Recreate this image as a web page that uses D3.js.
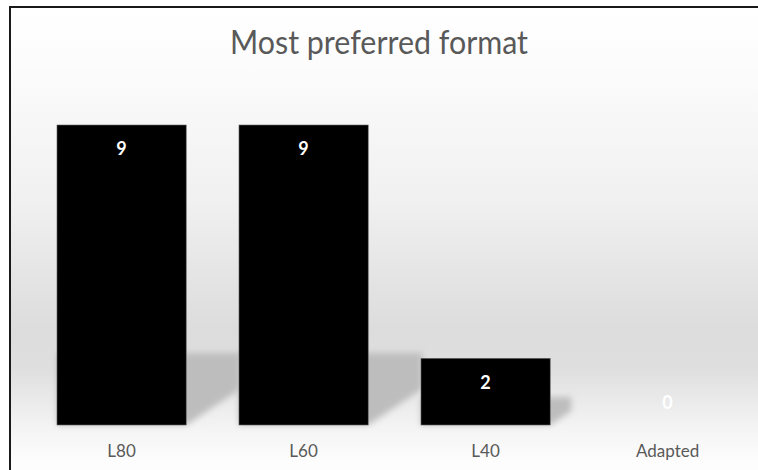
<!DOCTYPE html>
<html>
<head>
<meta charset="utf-8">
<script src="https://cdn.jsdelivr.net/npm/d3@7"></script>
<style>
  html, body { margin: 0; padding: 0; background: #fff; }
  svg { display: block; font-family: Lato, "Open Sans", sans-serif; }
</style>
</head>
<body>
<div id="chart"></div>
<script>
/* chart data */
var categories = ["L80", "L60", "L40", "Adapted"];
var counts = [9, 9, 2, 0];
var title = "Most preferred format";

var width = 758, height = 470;
var base = 425;

var svg = d3.select("#chart").append("svg")
            .attr("width", width)
            .attr("height", height);

var defs = svg.append("defs");

/* background band: white -> grey -> white */
var bg = defs.append("linearGradient")
            .attr("id", "bg").attr("x1", 0).attr("y1", 0).attr("x2", 0).attr("y2", 1);
[[0, "#ffffff"], [0.12, "#fcfcfc"], [0.4, "#f0f0f0"], [0.66, "#dcdcdc"], [0.74, "#dfdfdf"],
 [0.86, "#f4f4f4"], [0.93, "#fdfdfd"], [1, "#ffffff"]].forEach(function(s) {
    bg.append("stop").attr("offset", s[0]).attr("stop-color", s[1]);
});

var blur = defs.append("filter").attr("id", "blur")
            .attr("x", "-20%").attr("y", "-20%").attr("width", "140%").attr("height", "140%");
blur.append("feGaussianBlur").attr("stdDeviation", 3);

/* frame */
svg.append("rect")
    .attr("x", 10).attr("y", 7)
    .attr("width", width + 20).attr("height", height + 20)
    .attr("fill", "url(#bg)")
    .attr("stroke", "#1a1a1a")
    .attr("stroke-width", 2);

/* scales */
var x = d3.scaleBand()
            .domain(categories)
            .range([30.6, 758.6])
            .paddingInner(0.29)
            .paddingOuter(0.145);

var y = d3.scaleLinear()
            .domain([0, 9])
            .range([base, 125]);

/* title */
svg.append("text")
    .attr("x", 379)
    .attr("y", 54)
    .attr("text-anchor", "middle")
    .attr("font-size", 32)
    .attr("fill", "#595959")
    .attr("textLength", 298)
    .attr("lengthAdjust", "spacingAndGlyphs")
    .text(title);

var data = categories.map(function(c, i) { return { cat: c, value: counts[i] }; });

/* shadows behind bars */
svg.append("g").selectAll("path")
    .data(data.filter(function(d) { return d.value > 0; }))
    .enter().append("path")
    .attr("fill", "#bdbdbd")
    .attr("filter", "url(#blur)")
    .attr("d", function(d) {
        var h = base - y(d.value);
        var sh = Math.min(h * 0.42, 72);
        var dx = sh * 0.75, dy = sh * 0.5;
        var x0 = x(d.cat), x1 = x(d.cat) + x.bandwidth();
        return "M" + x0 + "," + base +
               "L" + x1 + "," + base +
               "L" + (x1 + dx) + "," + (base - dy) +
               "L" + (x1 + dx) + "," + (base - sh) +
               "L" + x0 + "," + (base - sh) + "Z";
    });

/* bars */
svg.append("g").selectAll("rect")
    .data(data)
    .enter().append("rect")
    .attr("x", function(d) { return x(d.cat); })
    .attr("y", function(d) { return y(d.value); })
    .attr("width", x.bandwidth())
    .attr("height", function(d) { return base - y(d.value); })
    .attr("fill", "#000")
    .attr("stroke", "#666")
    .attr("stroke-width", 0.6);

/* value labels */
svg.append("g").selectAll("text")
    .data(data)
    .enter().append("text")
    .attr("x", function(d) { return x(d.cat) + x.bandwidth() / 2; })
    .attr("y", function(d) { return d.value > 0 ? y(d.value) + 24 : y(d.value) - 22; })
    .attr("dy", "0.35em")
    .attr("text-anchor", "middle")
    .attr("font-size", 18)
    .attr("font-weight", "bold")
    .attr("fill", "#fff")
    .text(function(d) { return d.value; });

/* category labels */
svg.append("g").selectAll("text")
    .data(categories)
    .enter().append("text")
    .attr("x", function(d) { return x(d) + x.bandwidth() / 2; })
    .attr("y", 457)
    .attr("text-anchor", "middle")
    .attr("font-size", 17)
    .attr("fill", "#595959")
    .text(function(d) { return d; });
</script>
</body>
</html>
